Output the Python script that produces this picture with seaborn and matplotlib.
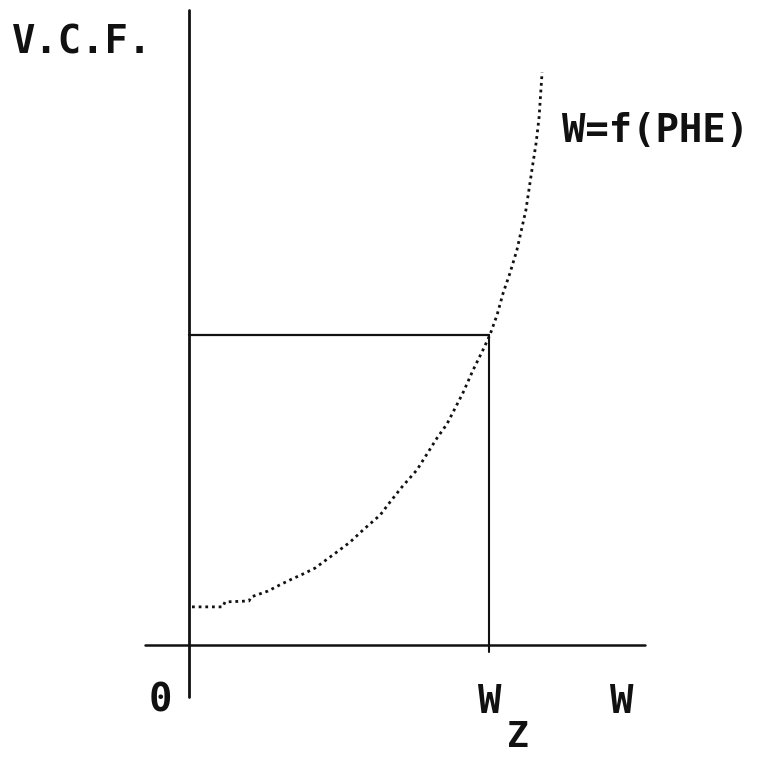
import matplotlib
matplotlib.use("Agg")
import matplotlib.pyplot as plt
import seaborn as sns
import pandas as pd

# curve W = f(PHE) (x: fraction of W_z, y: fraction of V.C.F. at W_z)
curve_x = [0.01, 0.113, 0.12, 0.20, 0.207, 0.263, 0.303, 0.337, 0.38, 0.42, 0.493,
           0.537, 0.58, 0.637, 0.67, 0.71, 0.76, 0.827, 0.86, 0.913, 0.947, 0.98,
           1.003, 1.027, 1.047, 1.07, 1.093, 1.123, 1.143, 1.157, 1.167, 1.177]
curve_y = [0.123, 0.123, 0.139, 0.142, 0.155, 0.174, 0.194, 0.21, 0.229, 0.248, 0.30,
           0.332, 0.371, 0.419, 0.461, 0.51, 0.565, 0.668, 0.713, 0.813, 0.887, 0.952,
           1.0, 1.065, 1.135, 1.2, 1.274, 1.403, 1.532, 1.619, 1.703, 1.848]

wz_x = 1.0      # W_z position
wz_y = 1.0      # V.C.F. at W_z
axis_x_range = [-0.147, 1.52]
axis_y_range = [-0.168, 2.048]

y_label = "V.C.F."
curve_label = "W=f(PHE)"
tick_labels = ["0", "W", "Z", "W"]

df = pd.DataFrame({"x": curve_x, "y": curve_y})

sns.set_theme(style="white")
plt.rcParams['font.family'] = ['DejaVu Sans Mono', 'DejaVu Sans']

W, H = 760, 759
fig = plt.figure(figsize=(W / 100, H / 100), dpi=100)
ax = fig.add_axes([0, 0, 1, 1])
ax.set_xlim(-189 / 300, (W - 189) / 300)
ax.set_ylim((645 - H) / 310, 645 / 310)
ax.axis("off")

# axes lines
ax.plot(axis_x_range, [0, 0], color="#111111", lw=1.8)
ax.plot([0, 0], axis_y_range, color="#111111", lw=2.0)

# reference lines at W_z
ax.plot([0, wz_x], [wz_y, wz_y], color="#111111", lw=1.6)
ax.plot([wz_x, wz_x], [wz_y, -0.023], color="#111111", lw=1.5)

# curve
sns.lineplot(data=df, x="x", y="y", ax=ax, color="#111111", lw=2.0,
             linestyle=(0, (1.0, 1.4)), sort=False, estimator=None)

fs = 28
kw = dict(fontsize=fs, fontweight="bold", color="#111111", ha="center", va="center")
fig.text(82 / W, 1 - 42 / H, y_label, **kw)
fig.text(655 / W, 1 - 131 / H, curve_label, **kw)
fig.text(160 / W, 1 - 700 / H, tick_labels[0], **kw)
fig.text(490 / W, 1 - 702 / H, tick_labels[1], **kw)
fig.text(518 / W, 1 - 737 / H, tick_labels[2], fontsize=26, fontweight="bold",
         color="#111111", ha="center", va="center")
fig.text(622 / W, 1 - 702 / H, tick_labels[3], **kw)

fig.savefig("out.png", dpi=100, facecolor="white")
